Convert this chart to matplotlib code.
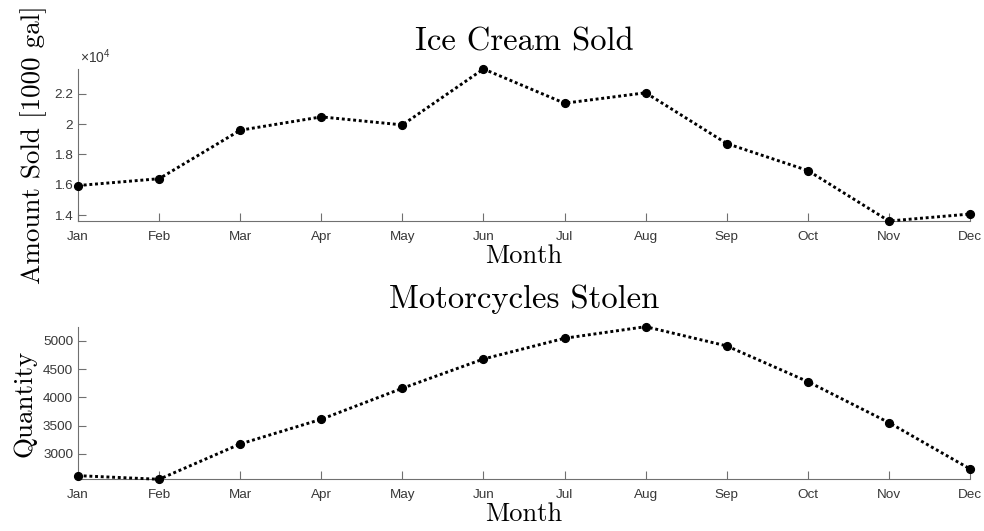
import matplotlib
matplotlib.use("Agg")
import matplotlib.pyplot as plt
from matplotlib.ticker import MultipleLocator, FuncFormatter

months = ["Jan", "Feb", "Mar", "Apr", "May", "Jun",
          "Jul", "Aug", "Sep", "Oct", "Nov", "Dec"]
ice_cream = [15950, 16400, 19600, 20480, 19950, 23640,
             21380, 22070, 18720, 16940, 13610, 14070]
motorcycles = [2616, 2552, 3177, 3614, 4163, 4681,
               5048, 5253, 4912, 4280, 3555, 2735]

plt.rcParams["mathtext.fontset"] = "custom"
plt.rcParams["mathtext.rm"] = "Liberation Sans"
plt.rcParams["mathtext.it"] = "Liberation Sans:italic"

SPINE_COLOR = "#707070"
LABEL_COLOR = "#383838"
TICK_FONT = {"family": "Liberation Sans", "size": 9.7}
SERIF = "cmr10"

fig = plt.figure(figsize=(9.84, 5.31), dpi=100)
left, width = 0.0793, 0.9065
ax1 = fig.add_axes([left, 0.5838, width, 0.2863])
ax2 = fig.add_axes([left, 0.0974, width, 0.2874])

x = list(range(1, len(months) + 1))


def style_axes(ax, values, step, title, ylabel):
    ax.plot(x, values, color="black", linewidth=2.1,
            linestyle=(0, (1.0, 0.95)), dash_capstyle="butt",
            marker="o", markersize=5.6, markerfacecolor="black",
            markeredgecolor="black", zorder=3, clip_on=False)
    ax.set_xlim(1, 12)
    ax.set_ylim(min(values), max(values))
    ax.set_xticks(x)
    ax.set_xticklabels(months)
    ax.yaxis.set_major_locator(MultipleLocator(step))
    for side in ("top", "right"):
        ax.spines[side].set_visible(False)
    for side in ("left", "bottom"):
        ax.spines[side].set_color(SPINE_COLOR)
        ax.spines[side].set_linewidth(0.8)
    ax.tick_params(axis="both", direction="in", length=6, width=0.8,
                   color=SPINE_COLOR, labelcolor=LABEL_COLOR)
    ax.tick_params(axis="x", pad=7)
    ax.tick_params(axis="y", pad=3.5)
    ax.set_title(title, family=SERIF, fontsize=23.5, pad=13.5)
    ax.set_xlabel("Month", family=SERIF, fontsize=19, labelpad=1)
    ax.set_ylabel(ylabel, family=SERIF, fontsize=19.5, labelpad=5)


style_axes(ax1, ice_cream, 2000, "Ice Cream Sold", "Amount Sold [1000 gal]")
ax1.yaxis.set_major_formatter(FuncFormatter(lambda v, p: f"{v / 1e4:g}"))
ax1.text(0.002, 1.02, r"$\times 10^{4}$", transform=ax1.transAxes,
         fontsize=10, color=LABEL_COLOR, ha="left", va="bottom")

style_axes(ax2, motorcycles, 500, "Motorcycles Stolen", "Quantity")
ax2.yaxis.set_major_formatter(FuncFormatter(lambda v, p: f"{v:g}"))

for ax in (ax1, ax2):
    for lbl in ax.get_xticklabels() + ax.get_yticklabels():
        lbl.set_fontfamily(TICK_FONT["family"])
        lbl.set_fontsize(TICK_FONT["size"])

fig.savefig("out.png", dpi=100)
